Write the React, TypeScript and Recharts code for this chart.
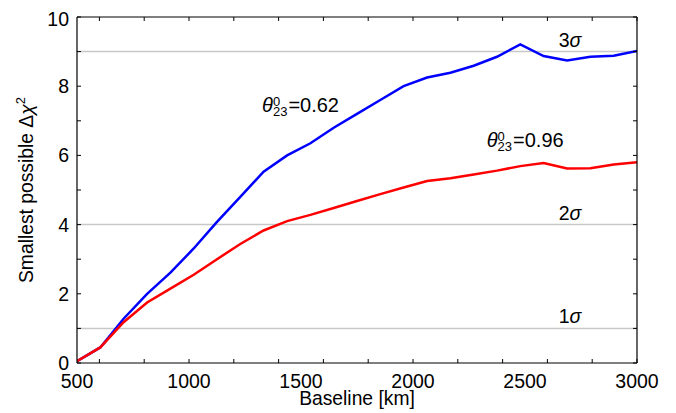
import React from 'react';
import {
  Line,
  LineChart,
  ReferenceDot,
  ReferenceLine,
  XAxis,
  YAxis,
} from 'recharts';

// baseline samples [km]
const baseline = [
  500, 604, 708, 813, 917, 1021, 1125, 1229, 1333, 1438, 1542, 1646, 1750,
  1854, 1958, 2063, 2167, 2271, 2375, 2479, 2583, 2688, 2792, 2896, 3000,
];
// smallest possible delta chi^2, theta23 = 0.62
const chi062 = [
  0.05, 0.45, 1.28, 2.0, 2.61, 3.31, 4.08, 4.8, 5.53, 6.0, 6.35, 6.8, 7.2,
  7.6, 8.0, 8.25, 8.39, 8.59, 8.85, 9.21, 8.87, 8.74, 8.85, 8.88, 9.02,
];
// theta23 = 0.96
const chi096 = [
  0.05, 0.45, 1.18, 1.75, 2.15, 2.55, 3.0, 3.44, 3.83, 4.1, 4.28, 4.48, 4.68,
  4.88, 5.07, 5.26, 5.34, 5.45, 5.56, 5.69, 5.78, 5.62, 5.63, 5.74, 5.8,
];

const xTicks = [500, 1000, 1500, 2000, 2500, 3000];
const xMinorTicks = [
  500, 600, 700, 800, 900, 1000, 1100, 1200, 1300, 1400, 1500, 1600, 1700,
  1800, 1900, 2000, 2100, 2200, 2300, 2400, 2500, 2600, 2700, 2800, 2900, 3000,
];
const yTicks = [0, 2, 4, 6, 8, 10];
const yMinorTicks = [
  0, 0.5, 1, 1.5, 2, 2.5, 3, 3.5, 4, 4.5, 5, 5.5, 6, 6.5, 7, 7.5, 8, 8.5, 9,
  9.5, 10,
];
const sigmaLevels = [1, 4, 9];
const sigmaLabels = ['1', '2', '3'];

const data = baseline.map((b, i) => ({ b, a: chi062[i], c: chi096[i] }));

const FONT = '"Liberation Sans", Arial, Helvetica, sans-serif';
const noLabel = () => <g />;

function ThetaLabel(props: any, value: string) {
  const { viewBox } = props;
  const x = viewBox.x + viewBox.width / 2;
  const y = viewBox.y + viewBox.height / 2;
  return (
    <text x={x} y={y} fontFamily={FONT} fontSize={20} fill="#000">
      <tspan fontStyle="italic">θ</tspan>
      <tspan fontSize={13} dy={-6}>0</tspan>
      <tspan fontSize={13} dx={-7.2} dy={10}>23</tspan>
      <tspan dy={-4} dx={1}>={value}</tspan>
    </text>
  );
}

// hidden copies of the series that bind the frame axes to the data
const frameBindings = [
  { x: 'bm', y: 'lm' },
  { x: 'top', y: 'rm' },
];

export default function App() {
  return (
    <LineChart
      width={668}
      height={405}
      data={data}
      margin={{ top: 9, right: 39, bottom: 0, left: 0 }}
      style={{ fontFamily: FONT }}
    >
      <XAxis
        xAxisId="main"
        dataKey="b"
        type="number"
        domain={[500, 3000]}
        ticks={xTicks}
        allowDataOverflow
        height={50}
        tickLine={false}
        tickSize={0}
        tickMargin={11}
        axisLine={{ stroke: '#000', strokeWidth: 1.2 }}
        tick={{ fill: '#000', fontSize: 19.5, fontFamily: FONT }}
        label={{
          content: (p: any) => (
            <text
              x={p.viewBox.x + p.viewBox.width / 2}
              y={p.viewBox.y + 42}
              textAnchor="middle"
              fontSize={19.3}
              fontFamily={FONT}
              fill="#000"
            >
              Baseline [km]
            </text>
          ),
        }}
      />
      <XAxis
        xAxisId="bm"
        dataKey="b"
        type="number"
        domain={[500, 3000]}
        ticks={xMinorTicks}
        allowDataOverflow
        mirror
        tick={noLabel}
        tickSize={4}
        axisLine={false}
        tickLine={{ stroke: '#000' }}
      />
      <XAxis
        xAxisId="top"
        dataKey="b"
        orientation="top"
        type="number"
        domain={[500, 3000]}
        ticks={xMinorTicks}
        allowDataOverflow
        mirror
        tick={noLabel}
        tickSize={4}
        axisLine={{ stroke: '#000', strokeWidth: 1.2 }}
        tickLine={{ stroke: '#000' }}
      />
      <YAxis
        yAxisId="main"
        type="number"
        domain={[0, 10]}
        ticks={yTicks}
        allowDataOverflow
        width={69}
        tickLine={false}
        tickSize={0}
        tickMargin={8}
        axisLine={{ stroke: '#000', strokeWidth: 1.2 }}
        tick={{ fill: '#000', fontSize: 19.5, fontFamily: FONT }}
        label={{
          content: (p: any) => {
            const cx = p.viewBox.x + 25;
            const cy = p.viewBox.y + p.viewBox.height / 2;
            return (
              <text
                x={cx}
                y={cy}
                transform={`rotate(-90, ${cx}, ${cy})`}
                textAnchor="middle"
                fontSize={19.3}
                fontFamily={FONT}
                fill="#000"
              >
                Smallest possible Δ
                <tspan fontStyle="italic">χ</tspan>
                <tspan fontSize={13} dy={-8}>2</tspan>
              </text>
            );
          },
        }}
      />
      <YAxis
        yAxisId="lm"
        type="number"
        domain={[0, 10]}
        ticks={yMinorTicks}
        allowDataOverflow
        mirror
        tick={noLabel}
        tickSize={4}
        axisLine={false}
        tickLine={{ stroke: '#000' }}
      />
      <YAxis
        yAxisId="rm"
        orientation="right"
        type="number"
        domain={[0, 10]}
        ticks={yMinorTicks}
        allowDataOverflow
        mirror
        tick={noLabel}
        tickSize={4}
        axisLine={{ stroke: '#000', strokeWidth: 1.2 }}
        tickLine={{ stroke: '#000' }}
      />
      {sigmaLevels.map((lvl, i) => (
        <ReferenceLine
          key={lvl}
          xAxisId="main"
          yAxisId="main"
          y={lvl}
          stroke="#c8c8c8"
          strokeWidth={1.5}
          label={{
            content: (p: any) => (
              <text
                x={p.viewBox.x + p.viewBox.width - 67}
                y={p.viewBox.y - 5}
                textAnchor="middle"
                fontSize={19.5}
                fontFamily={FONT}
                fill="#000"
              >
                {sigmaLabels[i]}
                <tspan fontStyle="italic">σ</tspan>
              </text>
            ),
          }}
        />
      ))}
      {frameBindings.map((f) => (
        <Line
          key={f.x}
          xAxisId={f.x}
          yAxisId={f.y}
          dataKey="a"
          stroke="none"
          dot={false}
          activeDot={false}
          legendType="none"
          isAnimationActive={false}
        />
      ))}
      <Line
        xAxisId="main"
        yAxisId="main"
        dataKey="a"
        stroke="#0000ff"
        strokeWidth={2.5}
        dot={false}
        type="linear"
        isAnimationActive={false}
      />
      <Line
        xAxisId="main"
        yAxisId="main"
        dataKey="c"
        stroke="#ff0000"
        strokeWidth={2.5}
        dot={false}
        type="linear"
        isAnimationActive={false}
      />
      <ReferenceDot
        xAxisId="main"
        yAxisId="main"
        x={1326}
        y={7.25}
        r={0}
        stroke="none"
        label={{ content: (p: any) => ThetaLabel(p, '0.62') }}
      />
      <ReferenceDot
        xAxisId="main"
        yAxisId="main"
        x={2329}
        y={6.24}
        r={0}
        stroke="none"
        label={{ content: (p: any) => ThetaLabel(p, '0.96') }}
      />
    </LineChart>
  );
}
